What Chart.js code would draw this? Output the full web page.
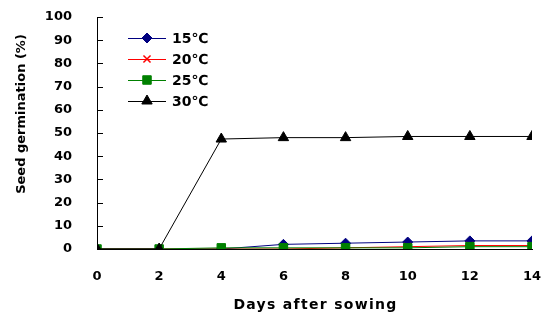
<!doctype html>
<html lang="en">
<head>
<meta charset="UTF-8">
<script src="https://cdn.jsdelivr.net/npm/chart.js@4.4.1/dist/chart.umd.min.js"></script>
<title>Seed germination</title>
<style>
    * { margin: 0; padding: 0; box-sizing: border-box; }
    body { background: #fff; }
    .wrap { width: 547px; height: 320px; }
</style>
</head>
<body>
<div class="wrap"><canvas id="canvas"></canvas></div>
<script>
    // days after sowing
    const days = [0, 2, 4, 6, 8, 10, 12, 14];

    // germination in % for each temperature
    const germ15 = [0, 0, 0, 2, 2.5, 3, 3.5, 3.5];
    const germ20 = [0, 0, 0, 0, 0.5, 1, 1.5, 1.5];
    const germ25 = [0, 0, 0.5, 0.5, 0.5, 0.5, 1, 1];
    const germ30 = [0, 0, 47.4, 48, 48, 48.5, 48.5, 48.5];

    const seriesNames = ["15℃", "20℃", "25℃", "30℃"];

    const yTicks = [0, 10, 20, 30, 40, 50, 60, 70, 80, 90, 100];

    const xTitle = "Days after sowing";
    const yTitle = "Seed germination (%)";

    const font = "'DejaVu Sans', sans-serif";

    function toPoints(vals) {
        return days.map((d, i) => ({ x: d, y: vals[i] }));
    }

    const styles = [
        { color: "#000080", style: "rectRot", radius: 5 },
        { color: "#ff0000", style: "crossRot", radius: 5 },
        { color: "#008000", style: "rect", radius: 6 },
        { color: "#000000", style: "triangle", radius: 6 },
    ];
    const values = [germ15, germ20, germ25, germ30];
    const drawOrder = [3, 2, 1, 0];

    const datasets = values.map((v, i) => ({
        label: seriesNames[i],
        data: toPoints(v),
        borderColor: styles[i].color,
        backgroundColor: styles[i].color,
        borderWidth: 1,
        pointStyle: styles[i].style,
        pointRadius: styles[i].radius,
        pointBorderWidth: i === 1 ? 1.5 : 1,
        pointBorderColor: styles[i].color,
        pointBackgroundColor: styles[i].color,
        order: drawOrder[i],
        tension: 0,
    }));

    // drop the label overhang so the plot box is set by layout.padding alone
    function noOverhang(scale) {
        scale.paddingTop = 0;
        scale.paddingBottom = 0;
        scale.paddingLeft = 0;
        scale.paddingRight = 0;
    }

    // small inward tick marks on the y axis
    const innerTicks = {
        id: "innerTicks",
        afterDraw(chart) {
            const ctx = chart.ctx;
            const y = chart.scales.y;
            ctx.save();
            ctx.strokeStyle = "#000";
            ctx.lineWidth = 1;
            yTicks.forEach((t) => {
                const py = Math.round(y.getPixelForValue(t)) + 0.5;
                ctx.beginPath();
                ctx.moveTo(y.right, py);
                ctx.lineTo(y.right + 6, py);
                ctx.stroke();
            });
            ctx.restore();
        },
    };

    // axis titles: y title sits a bit above the middle, x title is spaced out
    const axisTitles = {
        id: "axisTitles",
        afterDraw(chart) {
            const ctx = chart.ctx;
            const area = chart.chartArea;
            ctx.save();
            ctx.fillStyle = "#000";
            ctx.textAlign = "center";
            ctx.textBaseline = "middle";

            ctx.font = "bold 14px " + font;
            ctx.letterSpacing = "1.3px";
            ctx.fillText(xTitle, (area.left + area.right) / 2 + 1, 305);

            ctx.letterSpacing = "0px";
            ctx.font = "bold 13px " + font;
            ctx.translate(22, 114);
            ctx.rotate(-Math.PI / 2);
            ctx.fillText(yTitle, 0, 0);
            ctx.restore();
        },
    };

    // legend inside the plot area
    const insideLegend = {
        id: "insideLegend",
        afterDraw(chart) {
            const ctx = chart.ctx;
            const x0 = 128, x1 = 166, top = 38, gap = 21;
            ctx.save();
            chart.data.datasets.forEach((ds, i) => {
                const py = top + i * gap;
                ctx.strokeStyle = ds.borderColor;
                ctx.lineWidth = 1;
                ctx.beginPath();
                ctx.moveTo(x0, py + 0.5);
                ctx.lineTo(x1, py + 0.5);
                ctx.stroke();
                ctx.fillStyle = ds.pointBackgroundColor;
                ctx.strokeStyle = ds.pointBorderColor;
                ctx.lineWidth = ds.pointBorderWidth;
                Chart.helpers.drawPoint(ctx, {
                    pointStyle: ds.pointStyle,
                    radius: ds.pointRadius,
                    rotation: 0,
                    borderWidth: ds.pointBorderWidth,
                }, (x0 + x1) / 2, py);
                ctx.fillStyle = "#000";
                ctx.font = "bold 14px " + font;
                ctx.textBaseline = "middle";
                ctx.textAlign = "left";
                ctx.fillText(ds.label, 172, py + 1);
            });
            ctx.restore();
        },
    };

    new Chart(document.getElementById("canvas"), {
        type: "line",
        data: { datasets },
        options: {
            responsive: true,
            maintainAspectRatio: false,
            animation: false,
            layout: { padding: { top: 17, right: 15, left: 0, bottom: 0 } },
            plugins: {
                legend: { display: false },
                tooltip: { enabled: false },
            },
            scales: {
                x: {
                    type: "linear",
                    min: 0,
                    max: 14,
                    afterBuildTicks(scale) {
                        scale.ticks = days.map((d) => ({ value: d }));
                    },
                    afterFit(scale) { scale.height = 71; noOverhang(scale); },
                    grid: { display: false, drawTicks: false },
                    border: { display: true, color: "#000", width: 1 },
                    ticks: {
                        padding: 20,
                        color: "#000",
                        font: { family: font, size: 13, weight: "bold" },
                    },
                    title: { display: false },
                },
                y: {
                    min: 0,
                    max: 100,
                    afterBuildTicks(scale) {
                        scale.ticks = yTicks.map((v) => ({ value: v }));
                    },
                    afterFit(scale) { scale.width = 97; noOverhang(scale); },
                    grid: { display: false, drawTicks: false },
                    border: { display: true, color: "#000", width: 1 },
                    ticks: {
                        padding: 25,
                        color: "#000",
                        font: { family: font, size: 13, weight: "bold" },
                    },
                    title: { display: false },
                },
            },
        },
        plugins: [innerTicks, axisTitles, insideLegend],
    });
</script>
</body>
</html>
